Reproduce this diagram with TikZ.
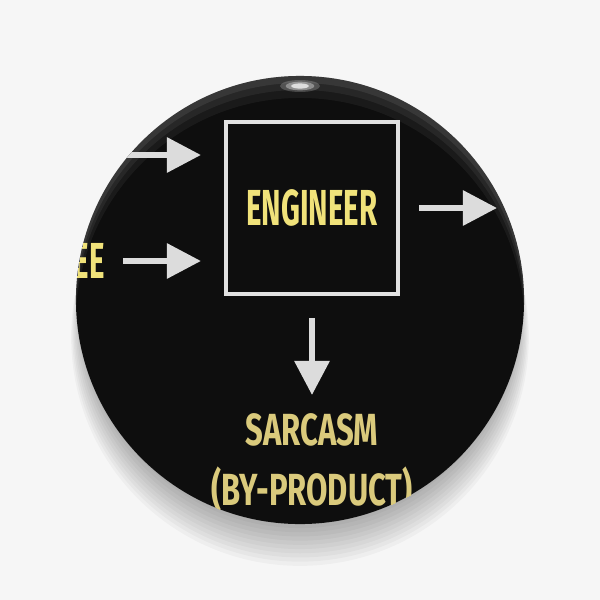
\documentclass[tikz,border=0pt]{standalone}
\usepackage{fontspec}
\newfontfamily\pinfont{Fira Sans}[FakeStretch=0.58]
\newfontfamily\pinwidefont{Fira Sans}[FakeStretch=0.69]
\usetikzlibrary{arrows.meta,positioning,calc}
\definecolor{pinbg}{RGB}{246,246,246}
\definecolor{pinblack}{RGB}{14,14,14}
\definecolor{arrowgray}{RGB}{220,220,220}
\definecolor{boxgray}{RGB}{226,226,226}
\definecolor{engyellow}{RGB}{240,226,122}
\definecolor{sandyellow}{RGB}{218,202,124}
\tikzset{
  flow/.style={line width=0.15cm, draw=arrowgray, -{Triangle[length=0.85cm,width=0.85cm]}},
  signtext/.style={font=\pinfont\bfseries\fontsize{36}{40}\selectfont, inner sep=0pt},
}
\begin{document}
\begin{tikzpicture}[x=0.025cm,y=-0.025cm]
 % Background
    \fill[pinbg] (0,0) rectangle (600,600);
    \useasboundingbox (0,0) rectangle (600,600);

 % SHADOW UNDER THE PIN
    \foreach \s in {0,...,9} {
      \fill[black,opacity=0.03] (300,310+\s*3) circle (5.45cm+\s*0.03cm);
    }

 % Pin face
    \fill[pinblack] (300,300) circle (5.6cm);
    \begin{scope}
      \clip (300,300) circle (5.6cm);
      \foreach \d/\o in {22/0.05, 14/0.06, 7/0.08} {
        \fill[white,opacity=\o,even odd rule] (300,300) circle (5.6cm) (300,300+\d) circle (5.6cm);
      }
    \end{scope}
    % glint
    \foreach \w/\o in {0.5/0.2, 0.36/0.35, 0.22/0.7} {
      \fill[white,opacity=\o] (300,86) ellipse (\w cm and 0.3*\w cm);
    }

 % Diagram on the pin
  \begin{scope}
    \clip (300,300) circle (5.6cm);

    \node[draw=boxgray, line width=0.1cm, minimum size=4.3cm, signtext,
          text=engyellow] (box) at (312,208) {ENGINEER};

    \node[signtext, text=engyellow, anchor=east] (ee) at (105,261) {EE};

    \node[signtext, text=sandyellow, align=center, anchor=north,
          font=\pinwidefont\bfseries\fontsize{32}{43}\selectfont] (sarcasm) at (312,413) {SARCASM\\(BY-PRODUCT)};

    \coordinate (in top) at (110,155);
    \coordinate (out) at (497,208);

    \draw[flow, shorten >=0.575cm] (in top) -- (in top -| box.west);
    \draw[flow, shorten <=0.45cm, shorten >=0.575cm] (ee.east) -- (ee.east -| box.west);
    \draw[flow, shorten <=0.475cm] (box.east) -- (out);
    \draw[flow, shorten <=0.55cm, shorten >=0.45cm] (box.south) -- (sarcasm.north);
  \end{scope}
\end{tikzpicture}
\end{document}
